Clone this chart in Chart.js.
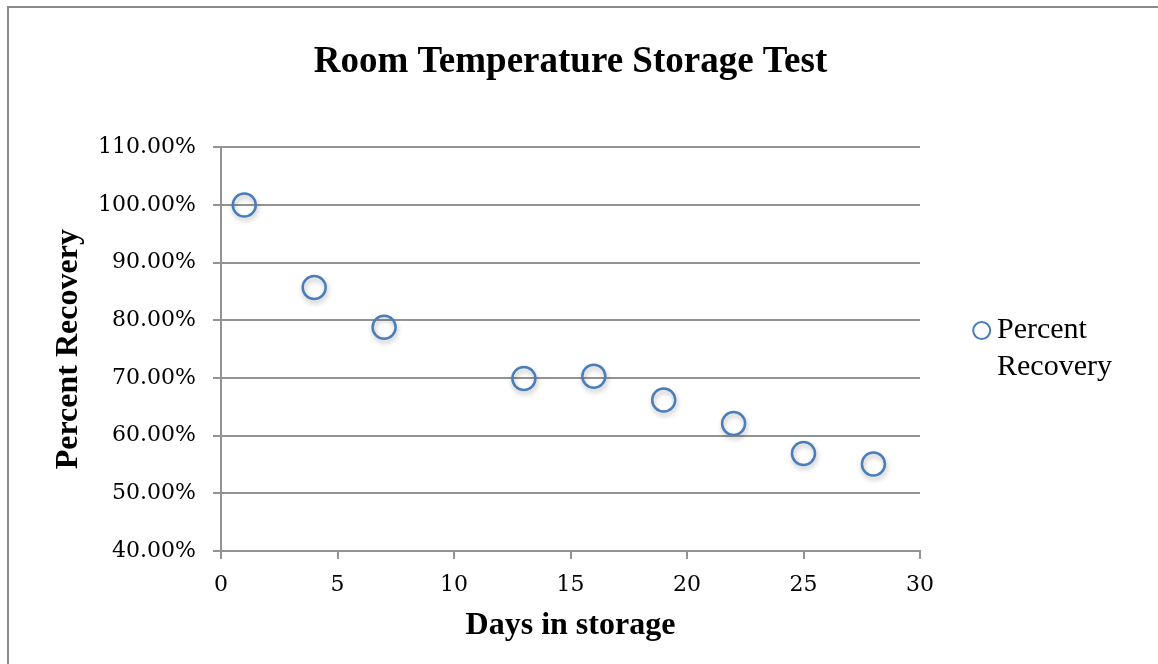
<!DOCTYPE html>
<html>
<head>
<meta charset="utf-8">
<script src="https://cdn.jsdelivr.net/npm/chart.js@4"></script>
<style>
  html, body { margin: 0; padding: 0; background: #fff; }
  #wrap { width: 1158px; height: 664px; }
</style>
</head>
<body>
<div id="wrap"><canvas id="chart" width="1158" height="664"></canvas></div>
<script>
// data
const days = [1, 4, 7, 13, 16, 19, 22, 25, 28];
const recovery = [100.0, 85.7, 78.8, 69.9, 70.3, 66.2, 62.1, 56.9, 55.1];
const seriesLabel = ['Percent', 'Recovery'];
const yTicks = [40, 50, 60, 70, 80, 90, 100, 110];
const xTicks = [0, 5, 10, 15, 20, 25, 30];

const GRID = '#939393';
const BLUE = '#4a7ebb';

// grey frame around the chart, like the original document box
const framePlugin = {
    id: 'frame',
    beforeDraw(chart) {
        const ctx = chart.ctx;
        ctx.save();
        ctx.strokeStyle = '#8a8a8a';
        ctx.lineWidth = 2;
        ctx.beginPath();
        ctx.moveTo(8, chart.height);
        ctx.lineTo(8, 7);
        ctx.lineTo(chart.width, 7);
        ctx.stroke();
        ctx.restore();
    }
};

// soft shadow under the markers
const shadowPlugin = {
    id: 'markerShadow',
    beforeDatasetDraw(chart) {
        const ctx = chart.ctx;
        ctx.save();
        ctx.shadowColor = 'rgba(0,0,0,0.28)';
        ctx.shadowBlur = 5;
        ctx.shadowOffsetX = 1;
        ctx.shadowOffsetY = 3;
    },
    afterDatasetDraw(chart) {
        chart.ctx.restore();
    }
};

// two-line legend on the right
const sideLegend = {
    id: 'sideLegend',
    afterDraw(chart) {
        const ctx = chart.ctx;
        const ds = chart.data.datasets[0];
        ctx.save();
        ctx.beginPath();
        ctx.arc(981.7, 330.5, 8.5, 0, Math.PI * 2);
        ctx.strokeStyle = ds.borderColor;
        ctx.lineWidth = 2;
        ctx.stroke();
        ctx.fillStyle = '#000';
        ctx.font = '30px "Liberation Serif", "Times New Roman", serif';
        ctx.textAlign = 'left';
        ctx.textBaseline = 'alphabetic';
        seriesLabel.forEach((t, i) => ctx.fillText(t, 997, 338 + i * 37));
        ctx.restore();
    }
};

new Chart(document.getElementById('chart'), {
    type: 'scatter',
    data: {
        datasets: [{
            label: seriesLabel.join(' '),
            data: days.map((d, i) => ({ x: d, y: recovery[i] })),
            pointStyle: 'circle',
            pointRadius: 11.5,
            pointHoverRadius: 11.5,
            borderWidth: 2.5,
            borderColor: BLUE,
            backgroundColor: 'rgba(0,0,0,0)'
        }]
    },
    options: {
        responsive: false,
        animation: false,
        layout: { padding: { left: 0, right: 238, top: 10, bottom: 0 } },
        plugins: {
            legend: { display: false },
            tooltip: { enabled: false },
            title: {
                display: true,
                fullSize: false,
                text: 'Room Temperature Storage Test',
                color: '#000',
                font: { family: '"Liberation Serif", "Times New Roman", serif', size: 37, weight: 'bold', lineHeight: 1.2 },
                padding: { top: 30, bottom: 63 }
            }
        },
        scales: {
            x: {
                type: 'linear',
                min: 0,
                max: 30,
                afterBuildTicks(scale) { scale.ticks = xTicks.map(v => ({ value: v })); },
                afterFit(scale) { scale.height = 113; },
                ticks: {
                    color: '#000',
                    padding: 13,
                    font: { family: '"DejaVu Serif", serif', size: 22 }
                },
                grid: { display: true, drawOnChartArea: false, drawTicks: true, tickLength: 8, color: GRID, lineWidth: 2 },
                border: { display: true, color: GRID, width: 2 },
                title: {
                    display: true,
                    text: 'Days in storage',
                    color: '#000',
                    font: { family: '"Liberation Serif", "Times New Roman", serif', size: 32, weight: 'bold', lineHeight: 1.2 },
                    padding: { top: 0, bottom: 19 }
                }
            },
            y: {
                min: 40,
                max: 110,
                afterBuildTicks(scale) { scale.ticks = yTicks.map(v => ({ value: v })); },
                afterFit(scale) { scale.width = 221; },
                ticks: {
                    color: '#000',
                    padding: 17,
                    font: { family: '"DejaVu Serif", serif', size: 22 },
                    callback: v => v.toFixed(2) + '%'
                },
                grid: { display: true, drawTicks: true, tickLength: 8, color: GRID, lineWidth: 2 },
                border: { display: true, color: GRID, width: 2 },
                title: {
                    display: true,
                    text: 'Percent Recovery',
                    color: '#000',
                    font: { family: '"Liberation Serif", "Times New Roman", serif', size: 32, weight: 'bold', lineHeight: 1.2 },
                    padding: { top: 50, bottom: 0 }
                }
            }
        }
    },
    plugins: [framePlugin, shadowPlugin, sideLegend]
});
</script>
</body>
</html>
